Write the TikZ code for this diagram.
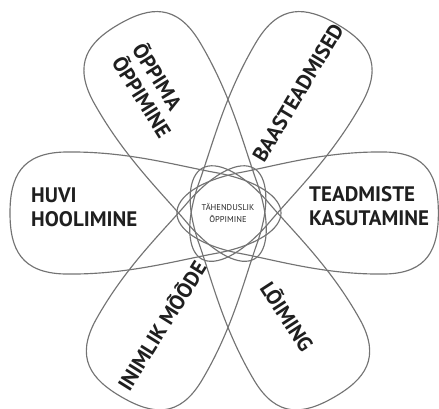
\documentclass[tikz,border=0pt]{standalone}
\usepackage{fontspec}
\setmainfont{PT Sans}
\usepackage{tikz}

\begin{document}
\begin{tikzpicture}[
    x=1pt, y=-1pt,
    petal/.style={draw=black!55, line width=1.15pt},
    lbl/.style={font=\bfseries\fontsize{21}{24}\selectfont, align=left,
      inner sep=0pt, text=black!88},
    core/.style={font=\fontsize{8.5}{12}\selectfont, align=center,
      inner sep=0pt, text=black!85},
  ]
    \useasboundingbox (0,0) rectangle (439,408);

    % six petals, each one a teardrop whose narrow end passes the centre
    \begin{scope}[shift={(228,213)}]
      \foreach \ang/\s in {0/0.965, 60/1.0, 120/1.0, 180/1.0, 240/0.975, 300/0.975} {
        \draw[petal, rotate=\ang, xscale=\s]
          (-53,0) .. controls (-53,16) and (-30,32) .. (10,40)
          .. controls (50,47) and (100,62) .. (163,61)
          .. controls (207,60) and (218,36) .. (218,0)
          .. controls (218,-36) and (207,-60) .. (163,-61)
          .. controls (100,-62) and (50,-47) .. (10,-40)
          .. controls (-30,-32) and (-53,-16) .. (-53,0) -- cycle;
      }
    \end{scope}

    \node[core] (core) at (228,213) {TÄHENDUSLIK\\ÕPPIMINE};

    \node[lbl, anchor=west] (huvi) at (31,207) {HUVI\\HOOLIMINE};
    \node[lbl, anchor=west] (teadm) at (309,206) {TEADMISTE\\KASUTAMINE};
    \node[lbl, rotate=-58] (oppima) at (153,90) {ÕPPIMA\\ÕPPIMINE};
    \node[lbl, rotate=59] (baas) at (298,93) {BAASTEADMISED};
    \node[lbl, rotate=58] (inim) at (161,325) {INIMLIK MÕÕDE};
    \node[lbl, rotate=-57] (loim) at (288,316) {LÕIMING};
  \end{tikzpicture}
\end{document}
